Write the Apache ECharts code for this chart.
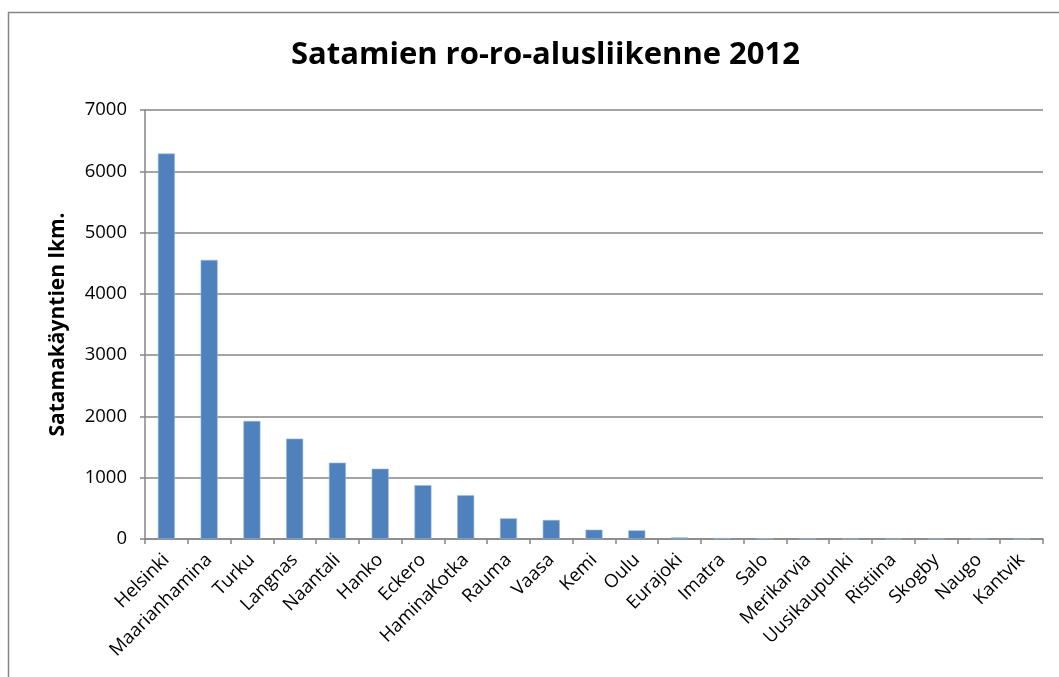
<!DOCTYPE html>
<html>
<head>
<meta charset="utf-8">
<script src="https://cdn.jsdelivr.net/npm/echarts@6/dist/echarts.min.js"></script>
<style>
  html, body { margin: 0; padding: 0; background: #fff; }
  #chart { width: 1059px; height: 677px; }
</style>
</head>
<body>
<div id="chart"></div>
<script>
// satamat
var ports = ['Helsinki', 'Maarianhamina', 'Turku', 'Langnas', 'Naantali', 'Hanko', 'Eckero',
  'HaminaKotka', 'Rauma', 'Vaasa', 'Kemi', 'Oulu', 'Eurajoki', 'Imatra', 'Salo',
  'Merikarvia', 'Uusikaupunki', 'Ristiina', 'Skogby', 'Naugo', 'Kantvik']
// satamakäynnit
var visits = [6290, 4554, 1926, 1638, 1245, 1147, 878, 714, 337, 311, 152, 141, 26, 16, 8,
  2, 1, 1, 1, 1, 1]
var yTicks = [0, 1000, 2000, 3000, 4000, 5000, 6000, 7000]

var font = '"Open Sans", "Liberation Sans", sans-serif'
var lineGray = '#868686'

var chart = echarts.init(document.getElementById('chart'))
var options = {
  animation: false,
  backgroundColor: '#fff',
  // ulkoreunus
  graphic: [{
    type: 'rect',
    shape: { x: 8.5, y: 12.5, width: 1200, height: 800 },
    style: { fill: 'none', stroke: lineGray, lineWidth: 1.5 },
    silent: true
  }],
  title: {
    text: 'Satamien ro-ro-alusliikenne 2012',
    left: 286,
    top: 35,
    textStyle: {
      fontFamily: font,
      fontSize: 31,
      fontWeight: 'bold',
      color: '#000'
    }
  },
  grid: {
    left: 145,
    right: 16,
    top: 110,
    bottom: 138,
    containLabel: false
  },
  xAxis: {
    type: 'category',
    data: ports,
    boundaryGap: true,
    axisLine: { show: true, lineStyle: { color: lineGray, width: 1.5 } },
    axisTick: { show: true, alignWithLabel: false, length: 5, lineStyle: { color: lineGray, width: 1.5 } },
    axisLabel: {
      interval: 0,
      rotate: 45,
      margin: 18,
      fontFamily: font,
      fontSize: 18.5,
      color: '#000'
    }
  },
  yAxis: {
    type: 'value',
    min: yTicks[0],
    max: yTicks[yTicks.length - 1],
    interval: 1000,
    name: 'Satamakäyntien lkm.',
    nameLocation: 'middle',
    nameGap: 76,
    nameRotate: 90,
    nameTextStyle: {
      fontFamily: font,
      fontSize: 21,
      fontWeight: 'bold',
      color: '#000'
    },
    axisLine: { show: true, lineStyle: { color: lineGray, width: 1.5 } },
    axisTick: { show: true, length: 5, lineStyle: { color: lineGray, width: 1.5 } },
    axisLabel: {
      margin: 18,
      fontFamily: font,
      fontSize: 18.5,
      color: '#000',
      formatter: function (value) {
        return String(value)
      }
    },
    splitLine: { show: true, lineStyle: { color: lineGray, width: 1.5 } }
  },
  series: [{
    type: 'bar',
    data: visits,
    barWidth: 17,
    itemStyle: {
      color: '#4F81BD',
      borderColor: '#9ab8dc',
      borderWidth: 0.6
    }
  }]
}
chart.setOption(options)
</script>
</body>
</html>
